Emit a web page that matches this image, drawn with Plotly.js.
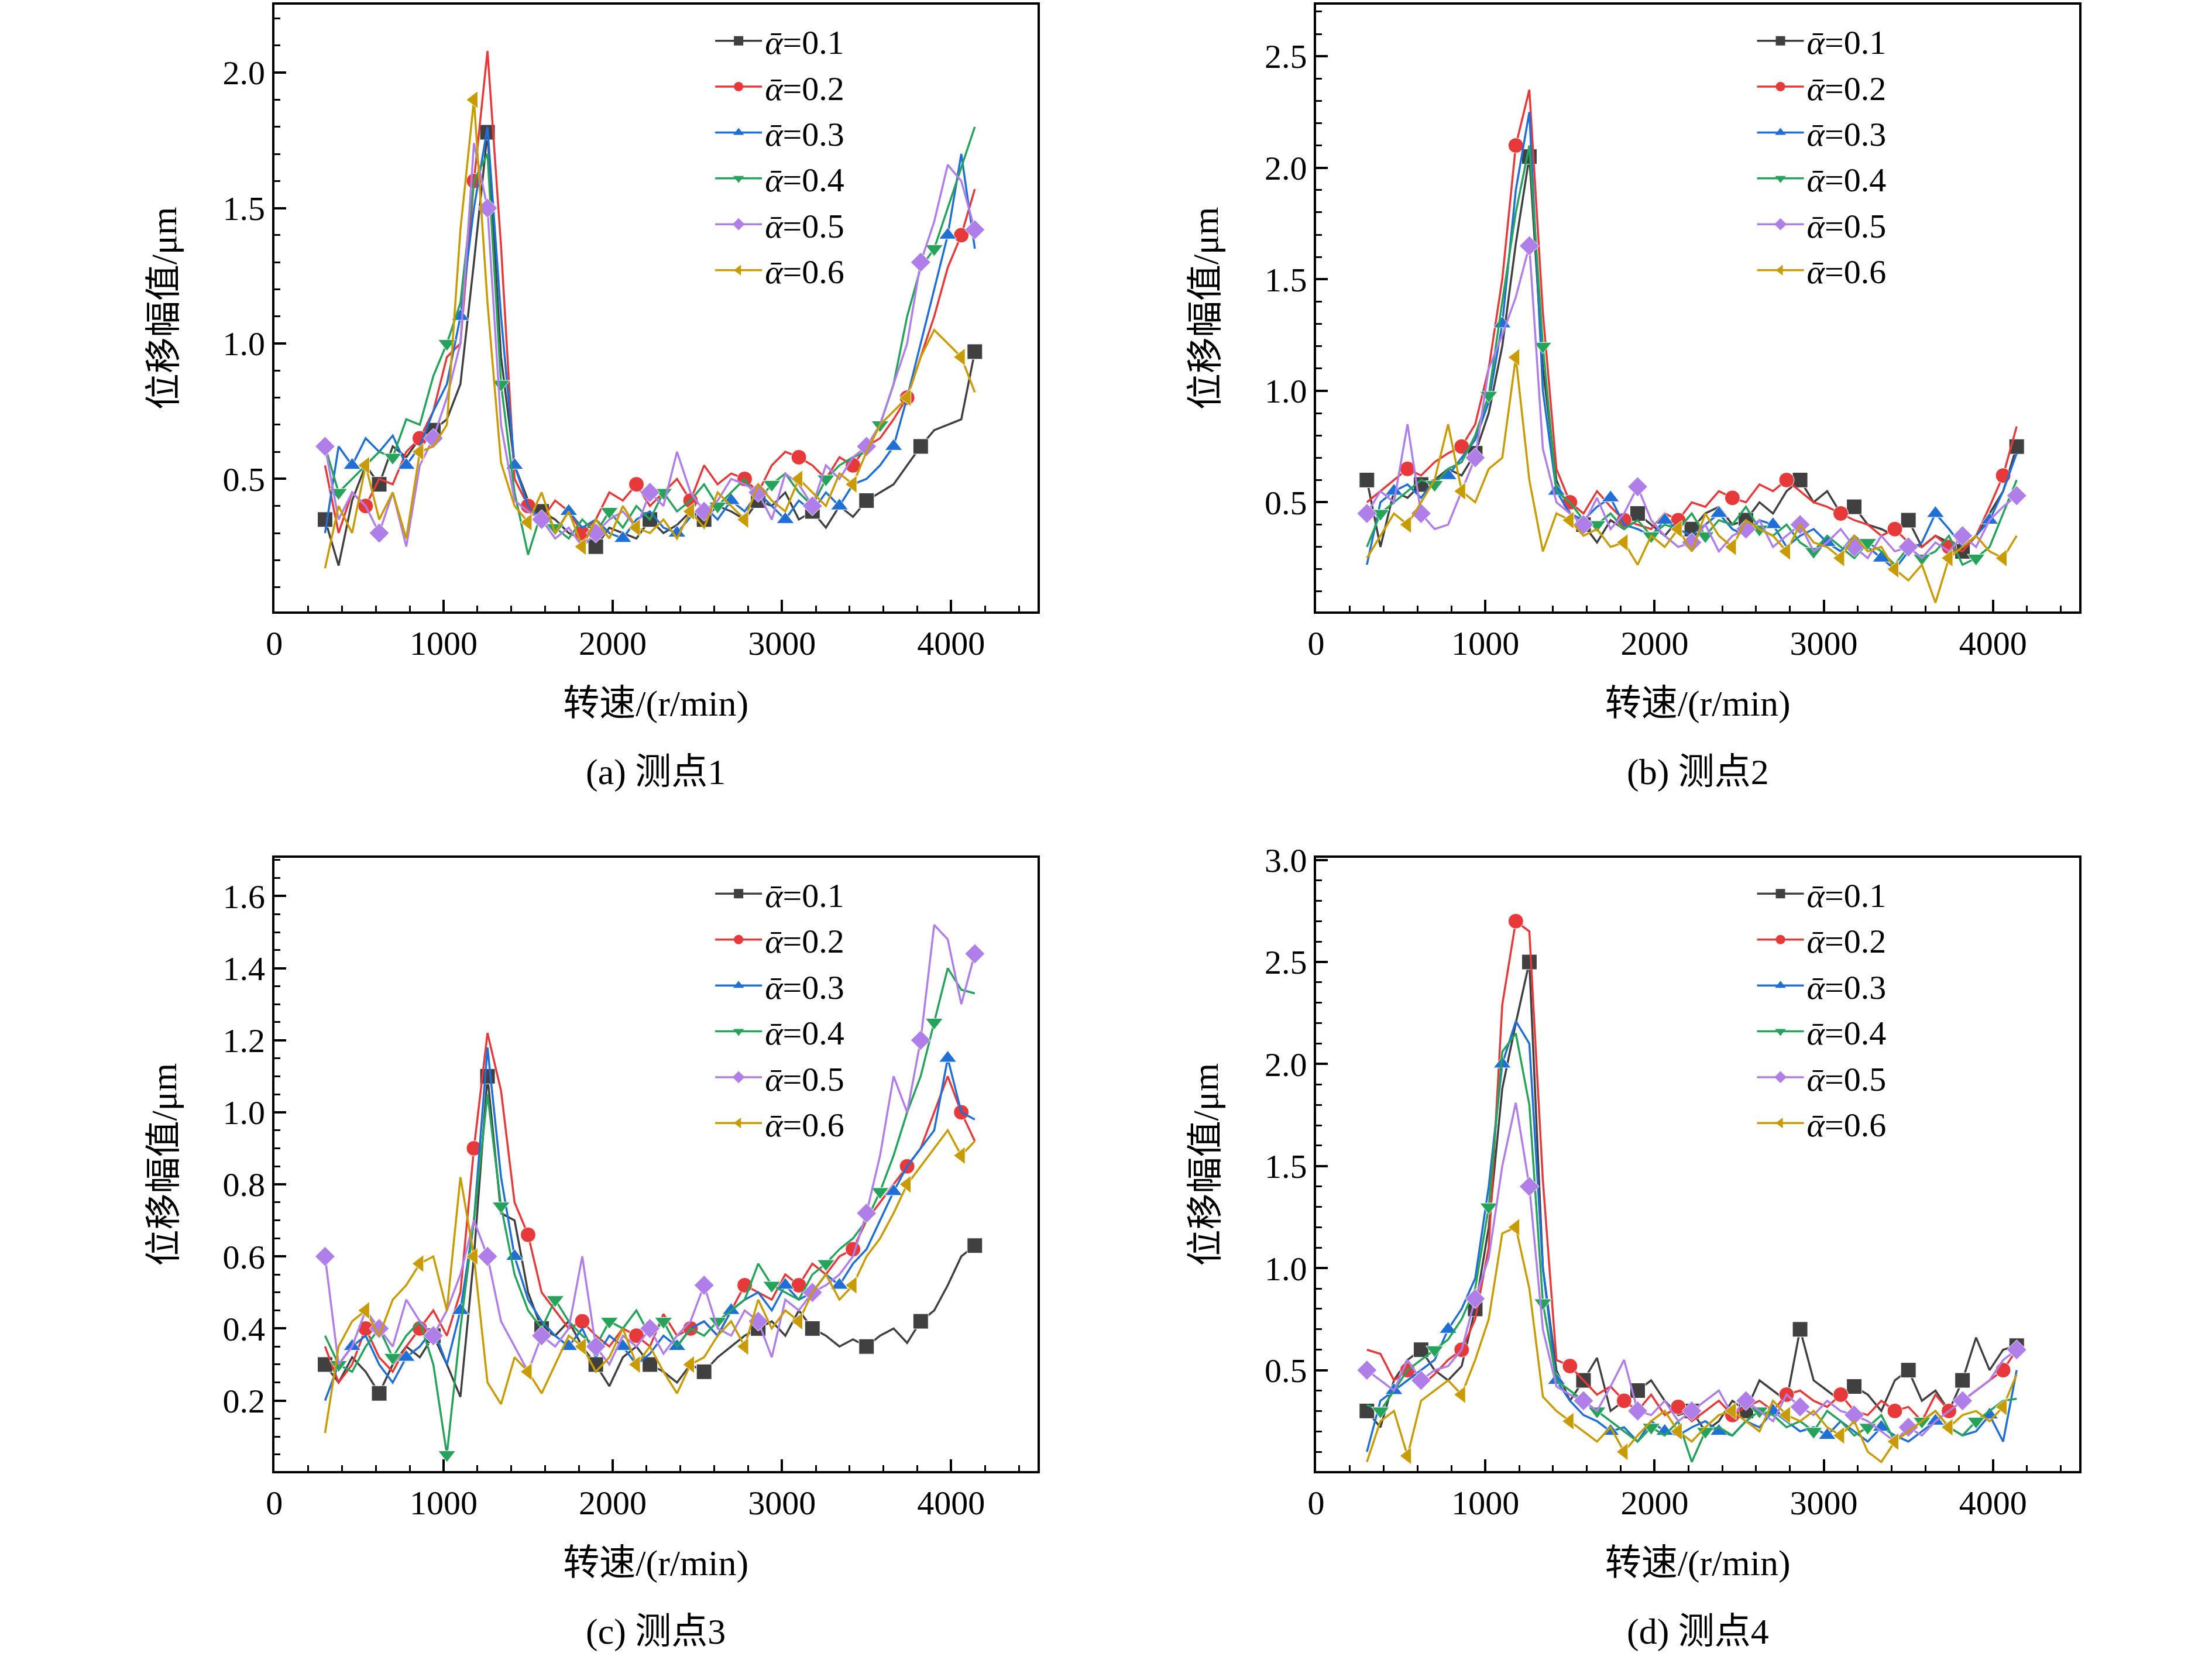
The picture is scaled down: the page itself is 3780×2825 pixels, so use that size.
<!DOCTYPE html>
<html>
<head>
<meta charset="utf-8">
<script src="https://cdn.plot.ly/plotly-3.0.1.min.js"></script>
<style>body{margin:0;background:#fff}#plot{width:3780px;height:2825px}</style>
</head>
<body>
<div id="plot"></div>
<script>
// rotation speed, r/min
const speed = [];
for (let s = 300; s <= 4140; s += 80) speed.push(s);

const alphaLabels = ["0.1", "0.2", "0.3", "0.4", "0.5", "0.6"];
const colors = ["#404040", "#e8393a", "#1f6fd6", "#26a35a", "#b07ee8", "#c89b00"];
const symbols = ["square", "circle", "triangle-up", "triangle-down", "diamond", "triangle-left"];

// 测点1
const a1 = [0.35,0.18,0.42,0.55,0.48,0.62,0.58,0.65,0.68,0.72,0.85,1.30,1.78,0.95,0.55,0.42,0.38,0.35,0.30,0.28,0.25,0.32,0.30,0.28,0.35,0.30,0.33,0.38,0.35,0.40,0.38,0.35,0.42,0.40,0.45,0.35,0.38,0.32,0.40,0.36,0.42,0.45,0.48,0.55,0.62,0.68,0.70,0.72,0.97];
const a2 = [0.55,0.30,0.45,0.40,0.50,0.48,0.60,0.65,0.75,0.95,1.00,1.60,2.08,1.36,0.50,0.40,0.35,0.42,0.38,0.30,0.35,0.45,0.42,0.48,0.40,0.45,0.50,0.42,0.55,0.48,0.52,0.50,0.45,0.55,0.60,0.58,0.55,0.50,0.58,0.55,0.62,0.65,0.72,0.80,0.95,1.10,1.28,1.40,1.57];
const a3 = [0.30,0.62,0.55,0.65,0.60,0.66,0.55,0.62,0.75,0.85,1.10,1.50,1.80,1.10,0.55,0.40,0.35,0.30,0.38,0.32,0.35,0.30,0.28,0.35,0.38,0.32,0.30,0.36,0.40,0.35,0.42,0.38,0.45,0.40,0.35,0.42,0.38,0.45,0.40,0.48,0.50,0.55,0.62,0.80,1.00,1.20,1.40,1.70,1.35];
const a4 = [0.62,0.45,0.50,0.55,0.60,0.58,0.72,0.70,0.88,1.00,1.15,1.60,1.70,0.85,0.45,0.22,0.38,0.32,0.28,0.35,0.30,0.38,0.32,0.40,0.35,0.45,0.38,0.42,0.48,0.40,0.45,0.50,0.42,0.48,0.52,0.45,0.40,0.50,0.55,0.58,0.60,0.70,0.85,1.10,1.28,1.35,1.50,1.65,1.80];
const a5 = [0.62,0.35,0.45,0.40,0.30,0.45,0.25,0.55,0.65,0.80,1.00,1.74,1.50,0.70,0.42,0.38,0.35,0.28,0.32,0.25,0.30,0.35,0.38,0.32,0.45,0.40,0.60,0.45,0.38,0.42,0.50,0.48,0.45,0.35,0.52,0.48,0.40,0.55,0.50,0.58,0.62,0.70,0.85,1.00,1.30,1.45,1.66,1.60,1.42];
const a6 = [0.17,0.40,0.30,0.55,0.35,0.45,0.28,0.60,0.62,0.70,1.42,1.90,1.15,0.56,0.40,0.34,0.45,0.30,0.38,0.25,0.35,0.28,0.40,0.32,0.30,0.35,0.28,0.38,0.32,0.45,0.40,0.35,0.48,0.42,0.38,0.50,0.45,0.40,0.52,0.48,0.60,0.70,0.75,0.80,0.95,1.05,1.00,0.95,0.82];

// 测点2
const b1 = [0.60,0.30,0.55,0.52,0.58,0.60,0.65,0.62,0.72,0.90,1.20,1.66,2.05,1.10,0.60,0.45,0.40,0.32,0.42,0.38,0.45,0.40,0.35,0.42,0.38,0.45,0.48,0.40,0.42,0.50,0.45,0.55,0.60,0.50,0.55,0.45,0.48,0.40,0.38,0.35,0.42,0.30,0.35,0.32,0.28,0.35,0.45,0.55,0.75];
const b2 = [0.50,0.55,0.60,0.65,0.62,0.68,0.72,0.75,0.85,1.10,1.50,2.10,2.35,1.35,0.65,0.50,0.45,0.55,0.48,0.42,0.40,0.38,0.45,0.42,0.50,0.48,0.55,0.52,0.50,0.58,0.55,0.60,0.55,0.50,0.48,0.45,0.42,0.40,0.35,0.38,0.32,0.30,0.35,0.30,0.28,0.35,0.48,0.62,0.84];
const b3 = [0.22,0.50,0.55,0.58,0.52,0.60,0.62,0.70,0.78,0.95,1.30,1.90,2.25,1.00,0.55,0.45,0.42,0.48,0.52,0.40,0.38,0.35,0.42,0.38,0.35,0.40,0.45,0.38,0.35,0.42,0.40,0.30,0.35,0.38,0.32,0.28,0.35,0.30,0.25,0.20,0.28,0.32,0.45,0.38,0.30,0.35,0.42,0.55,0.72];
const b4 = [0.30,0.45,0.50,0.55,0.60,0.58,0.65,0.68,0.80,0.98,1.40,1.80,2.10,1.20,0.55,0.50,0.42,0.40,0.45,0.38,0.42,0.35,0.40,0.38,0.45,0.35,0.42,0.40,0.48,0.38,0.35,0.40,0.32,0.28,0.35,0.30,0.25,0.32,0.28,0.22,0.30,0.25,0.28,0.35,0.22,0.25,0.30,0.45,0.60];
const b5 = [0.45,0.55,0.50,0.85,0.45,0.38,0.40,0.55,0.70,1.10,1.25,1.42,1.65,0.74,0.50,0.45,0.40,0.52,0.38,0.45,0.57,0.42,0.35,0.30,0.32,0.40,0.28,0.35,0.38,0.42,0.30,0.35,0.40,0.28,0.32,0.38,0.30,0.25,0.35,0.28,0.30,0.25,0.32,0.28,0.35,0.30,0.42,0.48,0.53];
const b6 = [0.25,0.35,0.45,0.40,0.50,0.60,0.85,0.55,0.50,0.65,0.70,1.15,0.60,0.28,0.45,0.42,0.35,0.38,0.30,0.32,0.22,0.35,0.30,0.38,0.28,0.45,0.35,0.30,0.42,0.38,0.35,0.28,0.40,0.32,0.30,0.25,0.35,0.28,0.30,0.20,0.15,0.22,0.05,0.25,0.30,0.35,0.28,0.25,0.35];

// 测点3
const c1 = [0.30,0.25,0.32,0.28,0.22,0.30,0.35,0.32,0.38,0.30,0.21,0.60,1.10,0.72,0.70,0.50,0.40,0.38,0.42,0.35,0.30,0.24,0.32,0.35,0.30,0.28,0.25,0.30,0.28,0.32,0.35,0.38,0.40,0.42,0.38,0.45,0.40,0.38,0.35,0.37,0.35,0.38,0.40,0.36,0.42,0.45,0.52,0.60,0.63];
const c2 = [0.35,0.25,0.30,0.40,0.32,0.28,0.35,0.40,0.45,0.38,0.50,0.90,1.22,1.06,0.75,0.66,0.50,0.45,0.40,0.42,0.38,0.35,0.40,0.38,0.35,0.44,0.38,0.40,0.42,0.38,0.45,0.52,0.50,0.48,0.55,0.52,0.58,0.55,0.60,0.62,0.70,0.75,0.80,0.85,0.90,1.00,1.10,1.00,0.92];
const c3 = [0.20,0.30,0.35,0.38,0.30,0.25,0.32,0.35,0.40,0.30,0.45,0.70,1.18,0.82,0.60,0.48,0.42,0.38,0.35,0.40,0.32,0.38,0.35,0.30,0.33,0.38,0.35,0.40,0.42,0.38,0.45,0.48,0.50,0.45,0.52,0.48,0.50,0.55,0.52,0.58,0.62,0.70,0.78,0.85,0.90,0.95,1.15,1.00,0.98];
const c4 = [0.38,0.30,0.28,0.35,0.40,0.32,0.38,0.42,0.30,0.05,0.40,0.70,1.05,0.74,0.55,0.45,0.40,0.48,0.42,0.38,0.35,0.42,0.40,0.45,0.38,0.42,0.35,0.40,0.38,0.42,0.45,0.48,0.58,0.52,0.50,0.48,0.55,0.58,0.62,0.65,0.70,0.78,0.88,1.00,1.10,1.25,1.40,1.34,1.33];
const c5 = [0.60,0.30,0.35,0.45,0.40,0.35,0.48,0.42,0.38,0.45,0.55,0.70,0.60,0.42,0.35,0.28,0.38,0.35,0.40,0.60,0.35,0.30,0.38,0.35,0.40,0.33,0.38,0.42,0.52,0.40,0.38,0.45,0.42,0.32,0.48,0.45,0.50,0.52,0.55,0.60,0.72,0.88,1.10,1.00,1.20,1.52,1.48,1.30,1.44];
const c6 = [0.11,0.35,0.42,0.45,0.38,0.48,0.52,0.58,0.60,0.45,0.82,0.60,0.25,0.19,0.32,0.28,0.22,0.30,0.38,0.35,0.28,0.32,0.40,0.30,0.35,0.28,0.22,0.30,0.32,0.38,0.42,0.35,0.48,0.40,0.45,0.42,0.50,0.55,0.48,0.52,0.60,0.65,0.72,0.80,0.85,0.90,0.95,0.88,0.92];

// 测点4
const d1 = [0.30,0.22,0.45,0.55,0.60,0.50,0.45,0.52,0.80,1.20,1.88,2.20,2.50,1.00,0.50,0.35,0.45,0.56,0.30,0.35,0.40,0.45,0.35,0.28,0.30,0.20,0.25,0.35,0.30,0.45,0.40,0.35,0.70,0.45,0.40,0.35,0.42,0.38,0.30,0.45,0.50,0.35,0.40,0.30,0.45,0.66,0.50,0.60,0.62];
const d2 = [0.60,0.58,0.45,0.50,0.42,0.48,0.55,0.60,0.75,1.10,2.29,2.70,2.65,1.43,0.55,0.52,0.45,0.38,0.42,0.35,0.30,0.38,0.28,0.32,0.25,0.30,0.35,0.28,0.32,0.35,0.30,0.38,0.40,0.35,0.32,0.38,0.30,0.28,0.35,0.30,0.32,0.25,0.38,0.30,0.35,0.40,0.45,0.50,0.60];
const d3 = [0.10,0.35,0.40,0.45,0.50,0.55,0.70,0.80,0.95,1.40,2.00,2.21,2.10,1.00,0.45,0.35,0.28,0.25,0.20,0.22,0.15,0.25,0.20,0.18,0.22,0.25,0.20,0.18,0.25,0.22,0.30,0.25,0.20,0.22,0.18,0.25,0.20,0.15,0.22,0.18,0.15,0.20,0.25,0.22,0.18,0.20,0.28,0.15,0.50];
const d4 = [0.33,0.30,0.40,0.50,0.55,0.60,0.65,0.75,0.90,1.30,2.06,2.15,1.80,0.83,0.45,0.40,0.35,0.30,0.25,0.20,0.15,0.22,0.18,0.25,0.05,0.20,0.22,0.18,0.25,0.30,0.28,0.22,0.25,0.20,0.30,0.25,0.18,0.22,0.28,0.15,0.20,0.25,0.30,0.22,0.18,0.25,0.30,0.35,0.36];
const d5 = [0.50,0.45,0.40,0.55,0.45,0.50,0.52,0.60,0.85,1.05,1.50,1.81,1.40,0.70,0.42,0.38,0.35,0.30,0.42,0.55,0.30,0.28,0.35,0.25,0.30,0.35,0.40,0.28,0.35,0.30,0.25,0.38,0.32,0.28,0.35,0.30,0.28,0.25,0.20,0.15,0.22,0.18,0.25,0.30,0.35,0.40,0.45,0.55,0.60];
const d6 = [0.05,0.25,0.30,0.08,0.35,0.40,0.45,0.38,0.55,0.75,1.17,1.20,0.90,0.37,0.30,0.25,0.20,0.15,0.22,0.10,0.18,0.25,0.30,0.20,0.15,0.22,0.28,0.30,0.25,0.20,0.35,0.28,0.25,0.30,0.22,0.18,0.25,0.10,0.05,0.15,0.20,0.25,0.30,0.22,0.28,0.30,0.25,0.32,0.48];

const panels = [
  { series: [a1, a2, a3, a4, a5, a6], yr: [0.01, 2.25], dt: 0.5, cap: "(a) 测点1" },
  { series: [b1, b2, b3, b4, b5, b6], yr: [0.01, 2.73], dt: 0.5, cap: "(b) 测点2" },
  { series: [c1, c2, c3, c4, c5, c6], yr: [0.004, 1.706], dt: 0.2, cap: "(c) 测点3" },
  { series: [d1, d2, d3, d4, d5, d6], yr: [0.005, 3.01], dt: 0.5, cap: "(d) 测点4" },
];

const FONT = "Liberation Serif, Times New Roman, Noto Sans CJK SC, serif";
const xDom = [[0.124, 0.469], [0.595, 0.940], [0.124, 0.469], [0.595, 0.940]];
const yDom = [[0.630, 0.997], [0.630, 0.997], [0.110, 0.481], [0.110, 0.481]];

const data = [];
const layout = {
  width: 3780, height: 2825, margin: { l: 0, r: 0, t: 0, b: 0 },
  paper_bgcolor: "#fff", plot_bgcolor: "#fff",
  font: { family: FONT, size: 58, color: "#000" },
  annotations: [],
};

panels.forEach(function (p, k) {
  const n = k + 1;
  const sfx = n === 1 ? "" : String(n);
  const leg = n === 1 ? "legend" : "legend" + n;
  p.series.forEach(function (ys, j) {
    // curve with sparse markers
    data.push({
      x: speed.slice(0, ys.length), y: ys,
      xaxis: "x" + sfx, yaxis: "y" + sfx, showlegend: false,
      type: "scatter", mode: "lines+markers",
      line: { color: colors[j], width: 3.5 },
      marker: {
        color: colors[j], symbol: symbols[j], opacity: 1,
        size: ys.map(function (v, i) { return (i + j) % 4 === 0 ? 26 : 0; }),
      },
    });
    // legend entry
    data.push({
      x: [null], y: [null], xaxis: "x" + sfx, yaxis: "y" + sfx, legend: leg,
      type: "scatter", mode: "lines+markers",
      name: "<i>ᾱ</i>=" + alphaLabels[j],
      line: { color: colors[j], width: 3.5 },
      marker: { color: colors[j], symbol: symbols[j], size: 26 },
    });
  });
  const axBase = {
    showline: true, mirror: true, linecolor: "#000", linewidth: 4,
    ticks: "inside", ticklen: 20, tickwidth: 4, tickcolor: "#000",
    showgrid: false, zeroline: false,
    tickfont: { family: FONT, size: 58 },
    minor: { ticks: "inside", ticklen: 10, tickwidth: 3, tickcolor: "#000" },
  };
  layout["xaxis" + sfx] = Object.assign({}, axBase, {
    domain: xDom[k], anchor: "y" + sfx, range: [0, 4510], dtick: 1000,
    title: { text: "转速/(r/min)", font: { family: FONT, size: 62 }, standoff: 50 },
  });
  layout["yaxis" + sfx] = Object.assign({}, axBase, {
    domain: yDom[k], anchor: "x" + sfx, range: p.yr, dtick: p.dt,
    tickformat: ".1f",
    title: { text: "位移幅值/μm", font: { family: FONT, size: 62 }, standoff: 60 },
  });
  layout[leg] = {
    x: xDom[k][0] + 0.198, y: yDom[k][1] - 0.006, xanchor: "left", yanchor: "top",
    bgcolor: "rgba(0,0,0,0)", font: { family: FONT, size: 58 },
    tracegroupgap: 0, itemwidth: 80,
  };
  layout.annotations.push({
    text: p.cap, xref: "paper", yref: "paper", showarrow: false,
    x: (xDom[k][0] + xDom[k][1]) / 2, y: yDom[k][0] - 0.097,
    xanchor: "center", yanchor: "middle", font: { family: FONT, size: 62 },
  });
});

Plotly.newPlot("plot", data, layout, { staticPlot: true });
</script>
</body>
</html>
